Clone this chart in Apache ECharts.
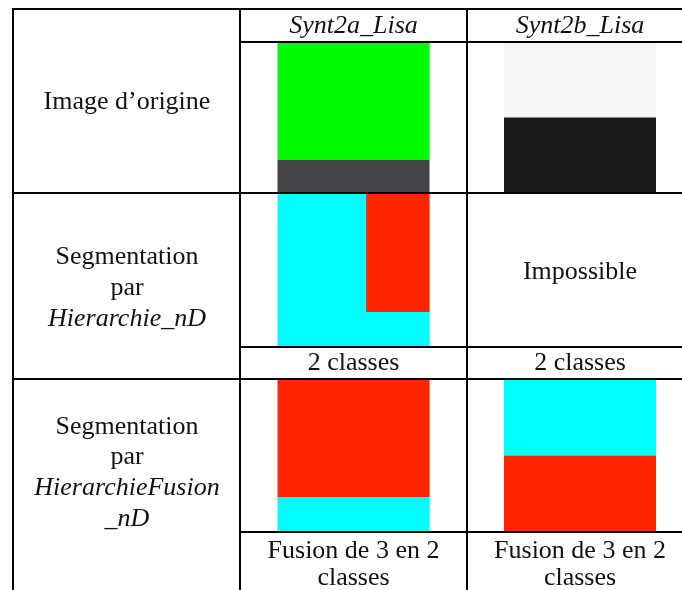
<!DOCTYPE html>
<html>
<head>
<meta charset="utf-8">
<script src="https://cdn.jsdelivr.net/npm/echarts@6/dist/echarts.min.js"></script>
<style>
html,body{margin:0;padding:0;background:#fff;}
#chart{width:682px;height:590px;}
</style>
</head>
<body>
<div id="chart"></div>
<script>
// ---------- content (data) ----------
const columnHeaders = ['Synt2a_Lisa', 'Synt2b_Lisa'];
const rowLabels = [
  ['Image d’origine'],
  ['Segmentation', 'par', 'Hierarchie_nD'],
  ['Segmentation', 'par', 'HierarchieFusion', '_nD']
];
const italicWords = ['Hierarchie_nD', 'HierarchieFusion', '_nD'];
const notesRow2 = [['2 classes'], ['2 classes']];
const notesRow3 = [['Fusion de 3 en 2', 'classes'], ['Fusion de 3 en 2', 'classes']];
const impossibleText = 'Impossible';

// thumbnail regions: [xFrom, xTo, yFrom, yTo, class] as fractions of the thumbnail
const synt2aOrigine = [[0, 1, 0, 0.785, 'green'], [0, 1, 0.785, 1, 'gray']];
const synt2bOrigine = [[0, 1, 0, 0.5, 'light'], [0, 1, 0.5, 1, 'dark']];
const synt2aHierarchie = [[0, 1, 0, 1, 'cyan'], [0.583, 1, 0, 0.776, 'red']];
const synt2aFusion = [[0, 1, 0, 0.775, 'red'], [0, 1, 0.775, 1, 'cyan']];
const synt2bFusion = [[0, 1, 0, 0.5, 'cyan'], [0, 1, 0.5, 1, 'red']];
// [column, row, regions]
const thumbnails = [
  [0, 0, synt2aOrigine],
  [1, 0, synt2bOrigine],
  [0, 1, synt2aHierarchie],
  [0, 2, synt2aFusion],
  [1, 2, synt2bFusion]
];

// ---------- layout & style ----------
const classColors = {
  green: '#00fa00', gray: '#46424a', light: '#f6f6f6', dark: '#1c1a1b',
  cyan: '#00ffff', red: '#ff2600'
};
const L = {
  left: 13, col1: 240, col2: 467, right: 693, top: 9,
  headerBottom: 42, row1Bottom: 193, row2Sub: 347, row2Bottom: 379, row3Sub: 532, bottom: 590,
  thumbW: 152,
  imgTop: [43, 194, 380], imgBottom: [192, 346, 531],
  headerY: 26,
  labelY: [[102], [257, 288, 319], [427, 457, 488, 519]],
  note2Y: [363], note3Y: [551, 578], impossibleY: 272
};
const colCenter = [(L.col1 + L.col2) / 2, 580];
const labelCenter = (L.left + L.col1) / 2 + 0.5;
const FONT = '"Liberation Serif", "Times New Roman", serif';
const FS = 26;

// rule lines built from layout
const ruleLines = [
  [L.left, L.top, 682, L.top],
  [L.left, L.top - 1, L.left, L.bottom],
  [L.col1, L.top - 1, L.col1, L.bottom],
  [L.col2, L.top - 1, L.col2, L.bottom],
  [L.col1, L.headerBottom, 682, L.headerBottom],
  [L.left, L.row1Bottom, 682, L.row1Bottom],
  [L.col1, L.row2Sub, 682, L.row2Sub],
  [L.left, L.row2Bottom, 682, L.row2Bottom],
  [L.col1, L.row3Sub, 682, L.row3Sub]
];

// region rectangles
const regionData = [];
thumbnails.forEach(function (t) {
  t[2].forEach(function (r) {
    regionData.push([t[0], t[1], r[0], r[1], r[2], r[3], r[4]]);
  });
});

// texts: [x, y, text, italic]
const textData = [];
columnHeaders.forEach(function (h, i) { textData.push([colCenter[i], L.headerY, h, true]); });
rowLabels.forEach(function (lines, r) {
  lines.forEach(function (s, k) {
    textData.push([labelCenter, L.labelY[r][k], s, italicWords.indexOf(s) >= 0]);
  });
});
notesRow2.forEach(function (lines, c) {
  lines.forEach(function (s, k) { textData.push([colCenter[c], L.note2Y[k], s, false]); });
});
notesRow3.forEach(function (lines, c) {
  lines.forEach(function (s, k) { textData.push([colCenter[c], L.note3Y[k], s, false]); });
});
textData.push([colCenter[1], L.impossibleY, impossibleText, false]);

const chart = echarts.init(document.getElementById('chart'), null, { renderer: 'canvas' });
chart.setOption({
  animation: false,
  backgroundColor: '#ffffff',
  grid: { left: 0, right: 0, top: 0, bottom: 0 },
  xAxis: { type: 'value', min: 0, max: 682, show: false },
  yAxis: { type: 'value', min: 0, max: 590, inverse: true, show: false },
  series: [
    {
      type: 'custom',
      data: regionData,
      renderItem: function (params, api) {
        const c = api.value(0), r = api.value(1);
        const x0 = colCenter[c] - L.thumbW / 2;
        const top = L.imgTop[r], h = L.imgBottom[r] - L.imgTop[r];
        const p0 = api.coord([x0 + api.value(2) * L.thumbW, top + api.value(4) * h]);
        const p1 = api.coord([x0 + api.value(3) * L.thumbW, top + api.value(5) * h]);
        const key = regionData[params.dataIndex][6];
        return {
          type: 'rect',
          shape: { x: p0[0], y: p0[1], width: p1[0] - p0[0], height: p1[1] - p0[1] },
          style: { fill: classColors[key] }
        };
      },
      z: 1
    },
    {
      type: 'custom',
      data: ruleLines,
      renderItem: function (params, api) {
        const a = api.coord([api.value(0), api.value(1)]);
        const b = api.coord([api.value(2), api.value(3)]);
        return {
          type: 'line',
          shape: { x1: a[0], y1: a[1], x2: b[0], y2: b[1] },
          style: { stroke: '#000', lineWidth: 2 }
        };
      },
      z: 2
    },
    {
      type: 'custom',
      data: textData.map(function (d) { return [d[0], d[1]]; }),
      renderItem: function (params, api) {
        const d = textData[params.dataIndex];
        const p = api.coord([d[0], d[1]]);
        return {
          type: 'text',
          style: {
            text: d[2], x: p[0], y: p[1],
            fontFamily: FONT, fontSize: FS, fontStyle: d[3] ? 'italic' : 'normal',
            align: 'center', verticalAlign: 'middle', fill: '#111'
          }
        };
      },
      z: 3
    }
  ]
});
</script>
</body>
</html>
